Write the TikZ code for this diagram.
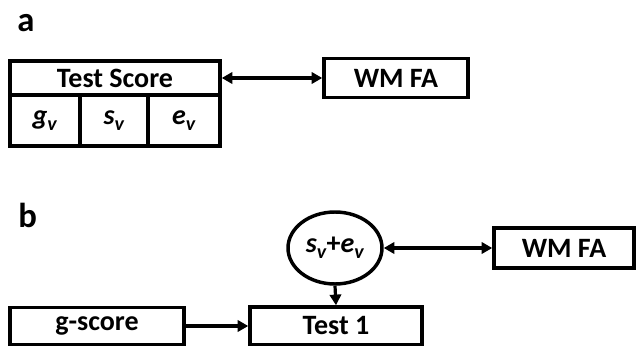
\documentclass[tikz,border=0pt]{standalone}
\usepackage{fontspec}
\setmainfont{Carlito}
\usetikzlibrary{arrows.meta,shapes.geometric}
% italic letter with a lowered italic v
\newcommand{\varv}[1]{\textit{#1}\raisebox{-0.45ex}{\fontsize{15}{18}\selectfont\textit{v}}}

\begin{document}
\begin{tikzpicture}[x=0.75pt,y=-0.75pt,
		box/.style={draw,line width=2.6pt,inner sep=0pt,font=\bfseries\fontsize{21}{25}\selectfont},
		cell/.style={box,minimum height=38.25pt},
		oval/.style={box,ellipse,minimum width=70.5pt,minimum height=54pt},
		panel/.style={font=\bfseries\fontsize{26}{30}\selectfont,inner sep=0pt,anchor=base west},
		link/.style={line width=2.4pt,-{Triangle[length=8pt,width=8.5pt]}},
		twoway/.style={link,{Triangle[length=8pt,width=8.5pt]}-{Triangle[length=8pt,width=8.5pt]}}]
		\useasboundingbox (0,0) rectangle (636,346);
		% part a
		\node[panel] (pa) at (17,32) {a};
		\node[box,minimum width=157.5pt,minimum height=25.5pt] (ts) at (115,78) {Test Score};
		\node[cell,minimum width=52.5pt] (gv) at (45,120.5) {\varv{g}};
		\node[cell,minimum width=51pt] (sv) at (114,120.5) {\varv{s}};
		\node[cell,minimum width=54pt] (ev) at (184,120.5) {\varv{e}};
		\node[box,minimum width=108pt,minimum height=29.25pt] (wma) at (396,78) {WM FA};
		\draw[twoway] (ts.east) -- (wma.west);
		% part b
		\node[panel] (pb) at (18,227) {b};
		\node[oval] (sve) at (335,248) {\varv{s}+\varv{e}};
		\node[box,minimum width=105pt,minimum height=30pt] (wmb) at (564,248) {WM FA};
		\node[box,minimum width=130.5pt,minimum height=27.75pt] (gs) at (97,326) {g-score};
		\node[box,minimum width=129pt,minimum height=28.5pt] (t1) at (336,326) {Test 1};
		\draw[twoway] (sve.east) -- (wmb.west);
		\draw[link] (sve.south) -- (t1.north);
		\draw[link] (gs.east) -- (t1.west);
\end{tikzpicture}
\end{document}
